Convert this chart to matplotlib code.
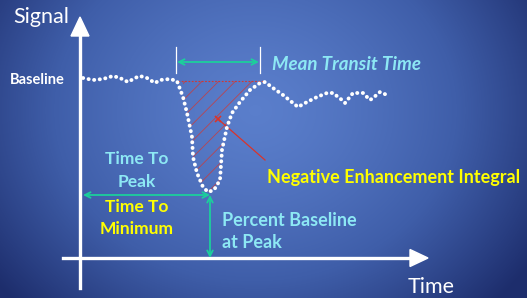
import numpy as np
import matplotlib
matplotlib.use("Agg")
from matplotlib import pyplot as plt
from matplotlib.colors import LinearSegmentedColormap

plt.rcParams['font.family'] = ['Lato', 'DejaVu Sans']
plt.rcParams['hatch.linewidth'] = 0.6

# signal curve (pixel coords, y down)
curve_x = [83, 93, 103, 113, 120, 128, 135, 140, 147, 155, 160, 170, 177,
           183, 187, 192, 193, 197, 203, 208, 214, 220, 222, 227, 232, 240,
           250, 260, 265, 273, 283, 293, 298, 307, 317, 327, 333, 342, 345,
           353, 363, 370, 373, 380, 387]
curve_y = [78, 80, 79, 76, 78, 82, 78, 76, 78, 83, 80, 79, 81,
           97, 113, 137, 157, 173, 187, 192, 190, 180, 150, 127, 113, 102,
           90, 83, 82, 88, 95, 103, 107, 102, 97, 93, 93, 100, 103,
           93, 93, 100, 98, 92, 95]

baseline_y = 81
fill_from, fill_to = 178, 265

white = 'white'
green = '#1ccf9c'
cyan = '#8de8f4'
yellow = '#ffff00'
red = '#d9342b'

fig = plt.figure(figsize=(5.27, 2.98), dpi=100)
ax = fig.add_axes([0, 0, 1, 1])
ax.set_xlim(0, 527)
ax.set_ylim(298, 0)
ax.axis('off')

# background: radial blue gradient
gx, gy = np.meshgrid(np.arange(527), np.arange(298))
r = np.sqrt(((gx - 255) / 330.0) ** 2 + ((gy - 110) / 280.0) ** 2)
r = np.clip(r, 0, 1) ** 1.4
cmap = LinearSegmentedColormap.from_list('bg', ['#5a7ecb', '#3f5ea9', '#1d2d6c'])
ax.imshow(r, cmap=cmap, extent=[0, 527, 298, 0], vmin=0, vmax=1, zorder=0)

# axes with arrow heads
ax.plot([80, 80], [288, 34], color=white, lw=2.4, zorder=3)
ax.fill([71, 89, 80], [36, 36, 17], color=white, zorder=3)
ax.plot([63, 412], [258, 258], color=white, lw=2.4, zorder=3)
ax.fill([410, 410, 428], [249.5, 266.5, 258], color=white, zorder=3)

ax.text(13, 17, 'Signal', color=white, fontsize=15.5, va='center', ha='left')
ax.text(408, 287, 'Time', color=white, fontsize=15.5, va='center', ha='left')
ax.text(10, 80, 'Baseline', color=white, fontsize=10.5, fontweight='bold',
        va='center', ha='left')

# hatched area between baseline and the dip
cx = np.array(curve_x, dtype=float)
cy = np.array(curve_y, dtype=float)
m = (cx >= fill_from) & (cx <= fill_to)
ax.fill_between(cx[m], baseline_y, cy[m], facecolor='none', edgecolor=red,
                hatch='//', linewidth=0, alpha=0.75, zorder=2)
ax.plot([fill_from, fill_to], [baseline_y, baseline_y], color=red, lw=0.8,
        ls=(0, (1.5, 1.5)), zorder=2)

# dotted signal
ax.plot(cx, cy, color=white, lw=2.8, ls=(0, (0.05, 1.4)),
        dash_capstyle='round', solid_capstyle='round', zorder=4)

# mean transit time
ax.plot([176, 176], [47, 73], color=white, lw=0.9, zorder=3)
ax.plot([260, 260], [47, 73], color=white, lw=0.9, zorder=3)
ax.annotate('', xy=(177, 62), xytext=(259, 62),
            arrowprops=dict(arrowstyle='<->', color=green, lw=1.3,
                            shrinkA=0, shrinkB=0), zorder=3)
ax.text(272, 65, 'Mean Transit Time', color=cyan, fontsize=13.5,
        fontweight='bold', fontstyle='italic', va='center', ha='left')

# negative enhancement integral pointer
ax.plot([218, 265], [119, 160], color=red, lw=0.9, zorder=3)
ax.plot([218], [119], marker='x', color=red, ms=4, mew=1.2, zorder=3)
ax.text(267, 177, 'Negative Enhancement Integral', color=yellow, fontsize=13,
        fontweight='bold', va='center', ha='left')

# time to peak / minimum
ax.annotate('', xy=(83, 195), xytext=(210, 195),
            arrowprops=dict(arrowstyle='<->', color=green, lw=1.3,
                            shrinkA=0, shrinkB=0), zorder=3)
ax.text(137, 159, 'Time To', color=cyan, fontsize=12.5, fontweight='bold',
        va='center', ha='center')
ax.text(137, 182, 'Peak', color=cyan, fontsize=12.5, fontweight='bold',
        va='center', ha='center')
ax.text(137, 207, 'Time To', color=yellow, fontsize=12.5, fontweight='bold',
        va='center', ha='center')
ax.text(137, 229, 'Minimum', color=yellow, fontsize=12.5, fontweight='bold',
        va='center', ha='center')

# percent baseline at peak
ax.annotate('', xy=(210, 195), xytext=(210, 258),
            arrowprops=dict(arrowstyle='<->', color=green, lw=1.3,
                            shrinkA=0, shrinkB=0), zorder=3)
ax.text(222, 220, 'Percent Baseline', color=cyan, fontsize=13,
        fontweight='bold', va='center', ha='left')
ax.text(222, 243, 'at Peak', color=cyan, fontsize=13, fontweight='bold',
        va='center', ha='left')

fig.savefig('out.png', dpi=100)
